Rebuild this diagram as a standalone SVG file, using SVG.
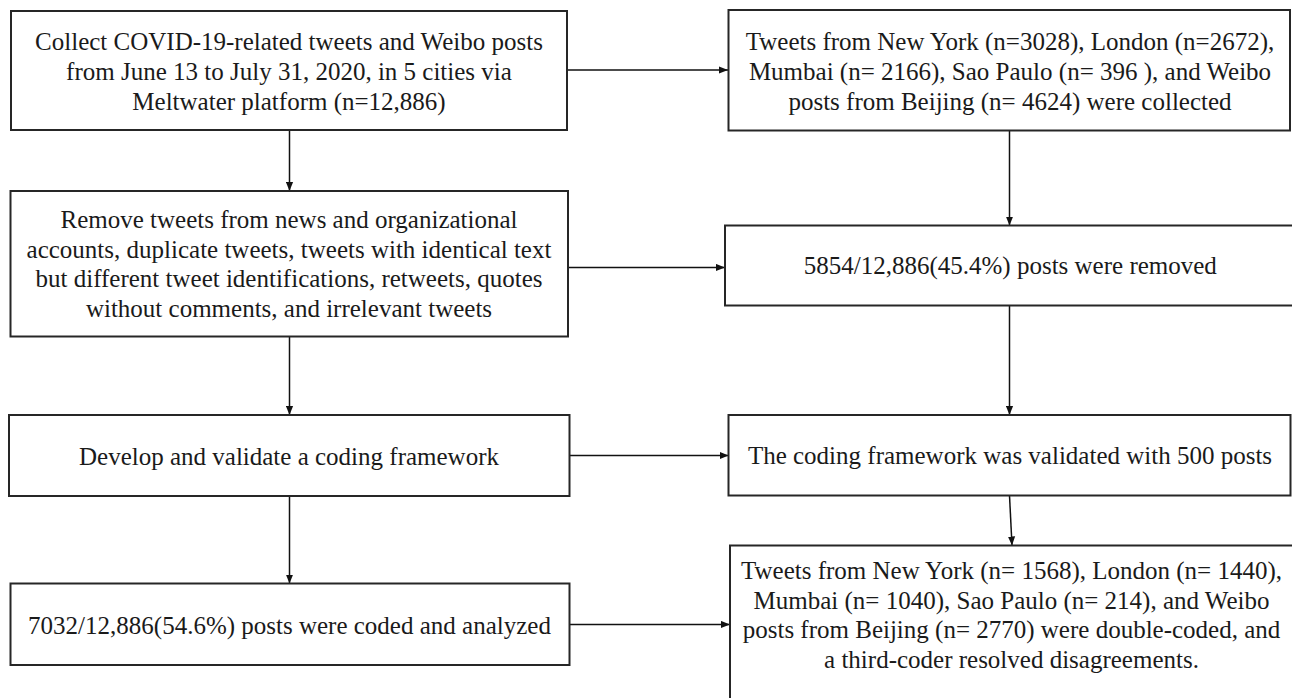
<svg xmlns="http://www.w3.org/2000/svg" width="1292" height="698" viewBox="0 0 1292 698">
<defs>
<style>
.box{fill:#ffffff;stroke:#262626;stroke-width:2}
.t{font-family:"Liberation Serif","Times New Roman",serif;font-size:25px;fill:#1a1a1a;text-anchor:middle}
.c{fill:none;stroke:#111111;stroke-width:1.5}
</style>
<marker id="ah" viewBox="0 0 10 8" refX="10" refY="4" markerWidth="9" markerHeight="8" markerUnits="userSpaceOnUse" orient="auto">
<path d="M0,0 L10,4 L0,8 Z" fill="#111111"/>
</marker>
</defs>
<rect width="1292" height="698" fill="#ffffff"/>
<g id="connectors">
<line class="c" x1="567" y1="70" x2="728" y2="70" marker-end="url(#ah)"/>
<line class="c" x1="568" y1="267.5" x2="725" y2="267.5" marker-end="url(#ah)"/>
<line class="c" x1="569.5" y1="455.5" x2="728.5" y2="455.5" marker-end="url(#ah)"/>
<line class="c" x1="569.5" y1="624.5" x2="730" y2="624.5" marker-end="url(#ah)"/>
<line class="c" x1="289.5" y1="130" x2="289.5" y2="191" marker-end="url(#ah)"/>
<line class="c" x1="289.5" y1="336.5" x2="289.5" y2="415" marker-end="url(#ah)"/>
<line class="c" x1="289.5" y1="496" x2="289.5" y2="583.5" marker-end="url(#ah)"/>
<line class="c" x1="1009.5" y1="130.5" x2="1009.5" y2="225.5" marker-end="url(#ah)"/>
<line class="c" x1="1009.5" y1="305.5" x2="1009.5" y2="415" marker-end="url(#ah)"/>
<line class="c" x1="1009.5" y1="495.5" x2="1012" y2="545.5" marker-end="url(#ah)"/>
</g>
<g id="node-collect">
<rect class="box" x="11" y="11" width="556" height="119"/>
<text class="t" x="289" y="50">Collect COVID-19-related tweets and Weibo posts</text>
<text class="t" x="289" y="80">from June 13 to July 31, 2020, in 5 cities via</text>
<text class="t" x="289" y="110">Meltwater platform (n=12,886)</text>
</g>
<g id="node-remove">
<rect class="box" x="10.5" y="191" width="557.5" height="145.5"/>
<text class="t" x="289" y="228">Remove tweets from news and organizational</text>
<text class="t" x="289" y="257.5">accounts, duplicate tweets, tweets with identical text</text>
<text class="t" x="289" y="287">but different tweet identifications, retweets, quotes</text>
<text class="t" x="289" y="316.5">without comments, and irrelevant tweets</text>
</g>
<g id="node-develop">
<rect class="box" x="9" y="415" width="560.5" height="81"/>
<text class="t" x="289" y="464.5">Develop and validate a coding framework</text>
</g>
<g id="node-coded">
<rect class="box" x="10.5" y="583.5" width="559" height="81.5"/>
<text class="t" x="289.5" y="634">7032/12,886(54.6%) posts were coded and analyzed</text>
</g>
<g id="node-tweets-collected">
<rect class="box" x="728.5" y="10" width="561.5" height="120.5"/>
<text class="t" x="1010" y="50">Tweets from New York (n=3028), London (n=2672),</text>
<text class="t" x="1010" y="80">Mumbai (n= 2166), Sao Paulo (n= 396 ), and Weibo</text>
<text class="t" x="1010" y="110">posts from Beijing (n= 4624) were collected</text>
</g>
<g id="node-removed">
<rect class="box" x="725" y="225.5" width="570" height="80"/>
<text class="t" x="1010.3" y="274">5854/12,886(45.4%) posts were removed</text>
</g>
<g id="node-validated">
<rect class="box" x="728.5" y="415" width="562" height="80.5"/>
<text class="t" x="1010" y="463.5">The coding framework was validated with 500 posts</text>
</g>
<g id="node-double-coded">
<rect class="box" x="730" y="545.5" width="563" height="160"/>
<text class="t" x="1011.5" y="578.5">Tweets from New York (n= 1568), London (n= 1440),</text>
<text class="t" x="1011.5" y="608.5">Mumbai (n= 1040), Sao Paulo (n= 214), and Weibo</text>
<text class="t" x="1011.5" y="638">posts from Beijing (n= 2770) were double-coded, and</text>
<text class="t" x="1011.5" y="668">a third-coder resolved disagreements.</text>
</g>
</svg>
